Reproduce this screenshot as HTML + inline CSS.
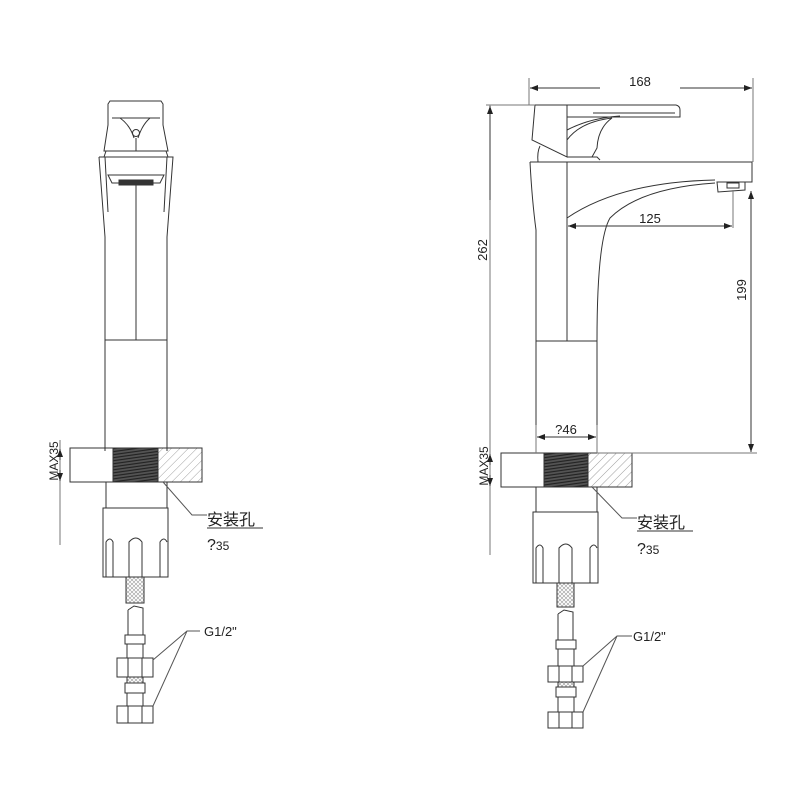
<!DOCTYPE html>
<html><head><meta charset="utf-8"><style>html,body{margin:0;padding:0;background:#fff}svg{display:block}</style></head>
<body>
<svg width="800" height="800" viewBox="0 0 800 800" xmlns="http://www.w3.org/2000/svg" font-family="Liberation Sans, Noto Sans CJK SC, sans-serif">
<defs>
<pattern id="hatch" width="6" height="6" patternUnits="userSpaceOnUse" patternTransform="rotate(45)"><line x1="0" y1="0" x2="0" y2="6" stroke="#888" stroke-width="0.8"/></pattern>
<pattern id="thr" width="3" height="3" patternUnits="userSpaceOnUse" patternTransform="rotate(-8)"><rect width="3" height="3" fill="#555"/><line x1="0" y1="1" x2="3" y2="1" stroke="#222" stroke-width="1.2"/></pattern>
<pattern id="braid" width="4" height="4" patternUnits="userSpaceOnUse"><path d="M0 0L2 2L4 0M0 4L2 2L4 4" stroke="#999" stroke-width="0.6" fill="none"/></pattern>
<marker id="ar" markerWidth="8" markerHeight="6" refX="8" refY="3" orient="auto"><path d="M0,0L8,3L0,6z" fill="#222"/></marker>
</defs>
<g fill="none" stroke="#333" stroke-width="1">
<!-- LEFT FAUCET -->
<path d="M110 101H161L163 104V125L168 151H104L108 125V104Z"/>
<path d="M112 118H160M120 118Q130 125 134 138M150 118Q142 125 138 138"/>
<circle cx="136" cy="133" r="3.5"/>
<line x1="136" y1="138" x2="136" y2="151"/>
<line x1="106" y1="151" x2="104" y2="157"/><line x1="166" y1="151" x2="168" y2="157"/>
<path d="M99 157H173L167 237V451M99 157L105 237V451"/>
<line x1="105" y1="157" x2="108" y2="212"/><line x1="167" y1="157" x2="164" y2="212"/>
<path d="M108 175H164L160 183H112Z"/>
<rect x="119" y="180" width="34" height="5" fill="#333"/>
<line x1="136" y1="180" x2="136" y2="340"/>
<line x1="105" y1="340" x2="167" y2="340"/>
<rect x="70" y="448" width="43" height="34"/>
<rect x="113" y="448" width="45" height="34" fill="url(#thr)"/>
<rect x="158" y="448" width="44" height="34" fill="url(#hatch)"/>
<rect x="106" y="482" width="61" height="26"/>
<rect x="103" y="508" width="65" height="69"/>
<path d="M106 577V542Q110 536 113 542V577M129 577V542Q136 534 142 542V577M160 577V542Q164 536 167 542"/>
<rect x="126" y="577" width="18" height="26" fill="url(#braid)"/>
<path d="M128 610L134 606L143 608V635M128 610V635"/>
<rect x="125" y="635" width="20" height="9"/>
<rect x="127" y="644" width="16" height="14"/>
<rect x="117" y="658" width="36" height="19"/><line x1="128" y1="658" x2="128" y2="677"/><line x1="142" y1="658" x2="142" y2="677"/>
<rect x="127" y="677" width="16" height="6" fill="url(#braid)"/>
<rect x="125" y="683" width="20" height="10"/>
<rect x="127" y="693" width="16" height="13"/>
<rect x="117" y="706" width="36" height="17"/><line x1="128" y1="706" x2="128" y2="723"/><line x1="142" y1="706" x2="142" y2="723"/>
<path d="M153 660L187 631H200M187 631L153 706" stroke="#555"/>
<path d="M163 482L192 515H207" stroke="#555"/>
<line x1="207" y1="528" x2="263" y2="528"/>
<line x1="60" y1="440" x2="60" y2="545" stroke="#777"/>
<line x1="60" y1="460" x2="60" y2="449" marker-end="url(#ar)"/>
<line x1="60" y1="470" x2="60" y2="481" marker-end="url(#ar)"/>
<!-- RIGHT FAUCET -->
<path d="M535 105H567V157L532 140Z"/>
<path d="M567 105H676Q680 106 680 110V117H567"/>
<path d="M593 113H675M567 130Q590 118 620 116M567 140Q580 122 612 118Q598 128 597 148L592 157H567"/>
<path d="M540 146Q537 152 538 162M567 157H597L600 160"/>
<path d="M530 162H752V182H742M530 162Q532 200 536 230V453"/>
<line x1="567" y1="162" x2="567" y2="341"/>
<path d="M567 218Q620 182 715 180"/>
<path d="M597 453V341Q597 240 610 218Q640 188 715 183"/>
<line x1="536" y1="341" x2="597" y2="341"/>
<path d="M717 182H745V190L718 192Z"/><rect x="727" y="183" width="12" height="5"/>
<rect x="501" y="453" width="43" height="34"/>
<rect x="544" y="453" width="44" height="34" fill="url(#thr)"/>
<rect x="588" y="453" width="44" height="34" fill="url(#hatch)"/>
<rect x="536" y="487" width="61" height="25"/>
<rect x="533" y="512" width="65" height="71"/>
<path d="M536 583V548Q540 542 543 548V583M559 583V548Q566 540 572 548V583M590 583V548Q594 542 597 548"/>
<rect x="557" y="583" width="17" height="24" fill="url(#braid)"/>
<path d="M558 614L564 610L573 612V640M558 614V640"/>
<rect x="556" y="640" width="20" height="9"/>
<rect x="558" y="649" width="16" height="17"/>
<rect x="548" y="666" width="35" height="16"/><line x1="559" y1="666" x2="559" y2="682"/><line x1="572" y1="666" x2="572" y2="682"/>
<rect x="558" y="682" width="16" height="5" fill="url(#braid)"/>
<rect x="556" y="687" width="20" height="10"/>
<rect x="558" y="697" width="16" height="15"/>
<rect x="548" y="712" width="35" height="16"/><line x1="559" y1="712" x2="559" y2="728"/><line x1="572" y1="712" x2="572" y2="728"/>
<path d="M583 666L617 636H632M617 636L583 712" stroke="#555"/>
<path d="M592 487L622 518H637" stroke="#555"/>
<line x1="637" y1="531" x2="693" y2="531"/>
<!-- dims -->
<g stroke="#777">
<line x1="529" y1="78" x2="529" y2="105"/><line x1="753" y1="78" x2="753" y2="162"/>
<line x1="486" y1="105" x2="535" y2="105"/>
<line x1="597" y1="453" x2="757" y2="453"/>
<line x1="733" y1="190" x2="733" y2="228"/>
<line x1="536" y1="425" x2="536" y2="453"/><line x1="597" y1="425" x2="597" y2="453"/>
<line x1="490" y1="105" x2="490" y2="555"/>
</g>
<line x1="600" y1="88" x2="530" y2="88" marker-end="url(#ar)"/><line x1="680" y1="88" x2="752" y2="88" marker-end="url(#ar)"/>
<line x1="650" y1="226" x2="568" y2="226" marker-end="url(#ar)"/><line x1="650" y1="226" x2="732" y2="226" marker-end="url(#ar)"/>
<line x1="751" y1="300" x2="751" y2="191" marker-end="url(#ar)"/><line x1="751" y1="300" x2="751" y2="452" marker-end="url(#ar)"/>
<line x1="490" y1="200" x2="490" y2="106" marker-end="url(#ar)"/>
<line x1="566" y1="437" x2="537" y2="437" marker-end="url(#ar)"/><line x1="566" y1="437" x2="596" y2="437" marker-end="url(#ar)"/>
<line x1="490" y1="465" x2="490" y2="454" marker-end="url(#ar)"/><line x1="490" y1="475" x2="490" y2="486" marker-end="url(#ar)"/>
</g>
<g fill="#222">
<text x="640" y="86" text-anchor="middle" font-size="13">168</text>
<text x="650" y="223" text-anchor="middle" font-size="13">125</text>
<text x="566" y="434" text-anchor="middle" font-size="13">?46</text>
<text transform="translate(746,290) rotate(-90)" text-anchor="middle" font-size="13">199</text>
<text transform="translate(487,250) rotate(-90)" text-anchor="middle" font-size="13">262</text>
<text transform="translate(488,466) rotate(-90)" text-anchor="middle" font-size="12">MAX35</text>
<text transform="translate(58,461) rotate(-90)" text-anchor="middle" font-size="12">MAX35</text>
<text x="207" y="525" font-size="16">安装孔</text>
<text x="207" y="550" font-size="16">?<tspan font-size="12">35</tspan></text>
<text x="204" y="636" font-size="13">G1/2"</text>
<text x="637" y="528" font-size="16">安装孔</text>
<text x="637" y="554" font-size="16">?<tspan font-size="12">35</tspan></text>
<text x="633" y="641" font-size="13">G1/2"</text>
</g>
</svg>
</body></html>
